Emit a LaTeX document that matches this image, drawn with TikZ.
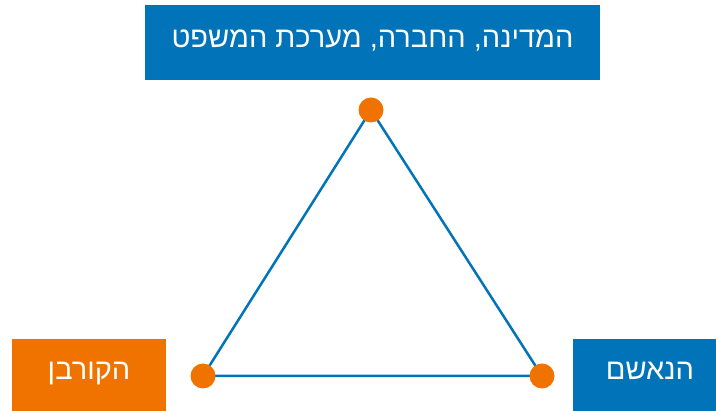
\documentclass[tikz,border=0pt]{standalone}
\usepackage{fontspec}
\TeXXeTstate=1
\newfontfamily\hebfont[Script=Hebrew]{Liberation Sans}
\definecolor{cblue}{HTML}{0173B9}
\definecolor{corange}{HTML}{F07300}
\begin{document}
\begin{tikzpicture}[x=1pt,y=-1pt,
  lbl/.style={inner sep=0pt, anchor=base, text=white, font=\hebfont\fontsize{29}{34}\selectfont},
  dot/.style={circle, fill=corange, minimum size=25pt, inner sep=0pt},
  edge/.style={draw=cblue, line width=2.5pt}]
\useasboundingbox (0,0) rectangle (716,411);
\fill[cblue] (145,5) rectangle (600,80);
\node[lbl] (top) at (372.5,48) {\beginR המדינה, החברה, מערכת המשפט\endR};
\fill[corange] (12,339) rectangle (166,411);
\node[lbl] (vic) at (89,380) {\beginR הקורבן\endR};
\fill[cblue] (573,339) rectangle (716,411);
\node[lbl] (acc) at (650,380) {\beginR הנאשם\endR};
\coordinate (A) at (371,110);
\coordinate (B) at (203,376);
\coordinate (C) at (542,376);
\draw[edge] (A) -- (B) -- (C) -- cycle;
\node[dot] (dA) at (A) {};
\node[dot] (dB) at (B) {};
\node[dot] (dC) at (C) {};
\end{tikzpicture}
\end{document}
